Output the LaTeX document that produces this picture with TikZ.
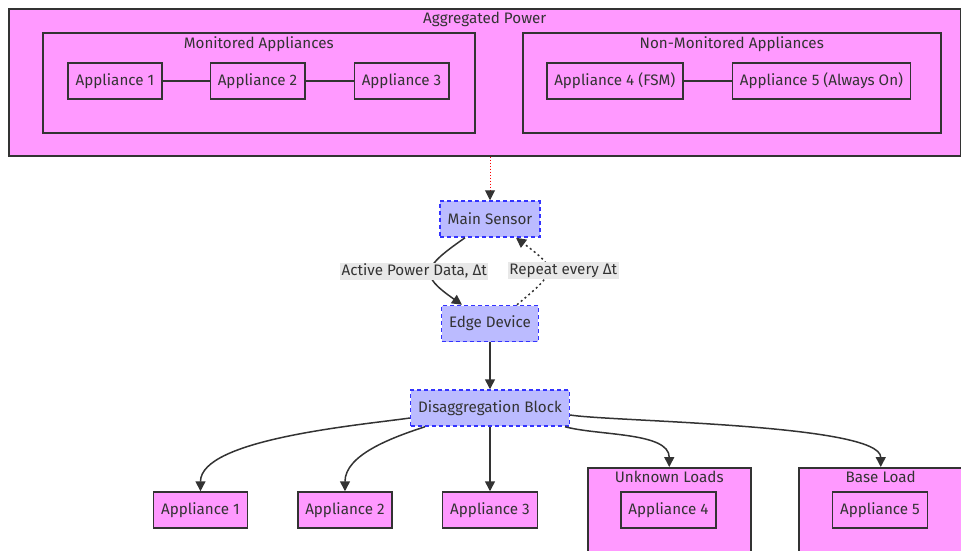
\documentclass[tikz,border=0pt]{standalone}
\usepackage{fontspec}
\setmainfont{Fira Sans}
\usetikzlibrary{arrows.meta,positioning}
\definecolor{pinkfill}{HTML}{FF99FF}
\definecolor{bluefill}{HTML}{BBBBFF}
\definecolor{bluedraw}{HTML}{3333FF}
\definecolor{ink}{HTML}{333333}
\definecolor{lblbg}{HTML}{E8E8E8}
\begin{document}
\begin{tikzpicture}[x=1pt, y=1pt, font=\fontsize{15.2}{18}\selectfont, text=ink,
  cluster/.style = {draw=ink, fill=pinkfill, line width=1.5pt, anchor=north west, inner sep=0pt},
  title/.style = {anchor=north, inner sep=0pt},
  main/.style = {draw=ink, fill=pinkfill, line width=1.5pt, minimum height=36pt, inner xsep=7.5pt},
  dev/.style = {draw=bluedraw, fill=bluefill, line width=1.5pt, dash pattern=on 4pt off 3pt, minimum height=36pt, inner xsep=7.5pt},
  link/.style = {draw=ink, line width=1.5pt},
  flow/.style = {link, -{Triangle[length=10pt,width=10pt]}},
  lbl/.style = {fill=lblbg, inner sep=1.5pt}]
  \useasboundingbox (0,0) rectangle (961,-550);

  % measured power: the two appliance groups
  \node[cluster, minimum width=952pt, minimum height=147pt] (agg) at (8,-8) {};
  \node[title] (aggtitle) at ([yshift=-4pt]agg.north) {Aggregated Power};
  \node[cluster, minimum width=432pt, minimum height=100pt] (mon) at (42,-32) {};
  \node[title] (montitle) at ([yshift=-4pt]mon.north) {Monitored Appliances};
  \node[cluster, minimum width=418pt, minimum height=100pt] (nonmon) at (522,-32) {};
  \node[title] (nonmontitle) at ([yshift=-4pt]nonmon.north) {Non-Monitored Appliances};

  \node[main] (a1) at (115,-81) {Appliance 1};
  \node[main] (a2) [right=47pt of a1] {Appliance 2};
  \node[main] (a3) [right=48pt of a2] {Appliance 3};
  \node[main, anchor=west] (a4) at (546,-81) {Appliance 4 (FSM)};
  \node[main] (a5) [right=48pt of a4] {Appliance 5 (Always On)};
  \draw[link] (a1) -- (a2);
  \draw[link] (a2) -- (a3);
  \draw[link] (a4) -- (a5);

  % sensing and processing chain
  \node[dev] (sensor) at (490,-219) {Main Sensor};
  \node[dev] (edge) [below=67pt of sensor] {Edge Device};
  \node[dev] (disagg) [below=47pt of edge] {Disaggregation Block};

  \draw[red, line width=1pt, dash pattern=on 1.5pt off 1.5pt,
        -{Triangle[length=10pt,width=10pt,color=ink,fill=ink]}]
    (agg.south -| sensor.north) -- (sensor.north);
  \draw[flow] ([xshift=-25pt]sensor.south) to[out=215, in=145, looseness=2]
    node[lbl, pos=0.5, xshift=-17pt] (datalbl) {Active Power Data, Δt}
    ([xshift=-28pt]edge.north);
  \draw[flow, dash pattern=on 2pt off 3pt] ([xshift=27pt]edge.north) to[out=40, in=-37, looseness=2]
    node[lbl, pos=0.5, xshift=16pt] (repeatlbl) {Repeat every Δt}
    ([xshift=26pt]sensor.south);
  \draw[flow] (edge) -- (disagg);

  % disaggregated outputs
  \node[main] (b3) at (490,-510) {Appliance 3};
  \node[main] (b2) [left=49pt of b3] {Appliance 2};
  \node[main] (b1) [left=49pt of b2] {Appliance 1};
  \node[cluster, minimum width=163pt, minimum height=100pt] (unk) at (587,-467) {};
  \node[title] (unktitle) at ([yshift=-4pt]unk.north) {Unknown Loads};
  \node[main] (b4) at (668.5,-510) {Appliance 4};
  \node[cluster, minimum width=164pt, minimum height=100pt] (base) at (798,-467) {};
  \node[title] (basetitle) at ([yshift=-4pt]base.north) {Base Load};
  \node[main] (b5) at (880,-510) {Appliance 5};

  \draw[flow] ([yshift=-10pt]disagg.west) to[out=188, in=90, looseness=0.6] (b1.north);
  \draw[flow] ([xshift=-65pt]disagg.south) to[out=198, in=90, looseness=0.9] (b2.north);
  \draw[flow] (disagg) -- (b3);
  \draw[flow] ([xshift=75pt]disagg.south) to[out=-15, in=90, looseness=0.8] (unk.north);
  \draw[flow] ([yshift=-7pt]disagg.east) to[out=-9, in=90, looseness=0.35] (base.north);
\end{tikzpicture}
\end{document}
